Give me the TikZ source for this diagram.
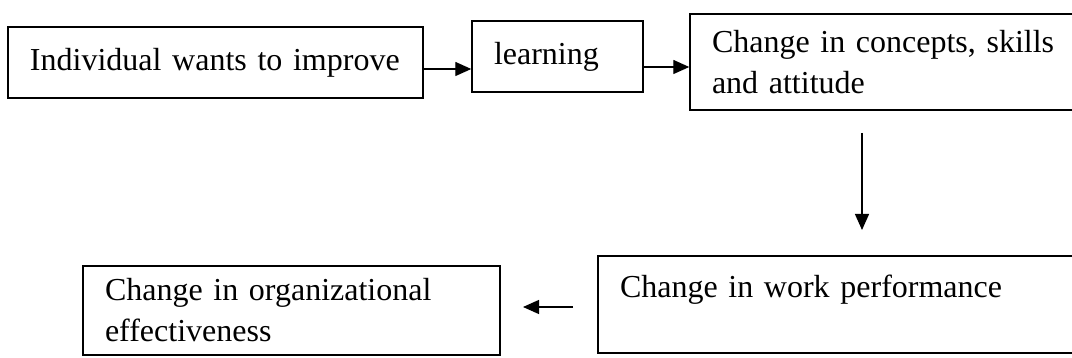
\documentclass[tikz,border=0pt]{standalone}
\usepackage{fontspec}
\setmainfont{Liberation Serif}
\usepackage{tikz}
\usetikzlibrary{arrows.meta}

\begin{document}
\begin{tikzpicture}[x=1pt,y=-1pt,every node/.style={draw,line width=1.4pt,align=left,inner xsep=22pt,inner ysep=0pt,font=\fontsize{32}{41}\selectfont},arr/.style={line width=1.3pt,-{Triangle[length=16pt,width=14pt]}}]
  	\useasboundingbox (0,0) rectangle (1072,358);
  	\clip (0,0) rectangle (1072,358);

  	\node[text width=371pt,minimum height=71pt] (ind) at (215.5,62.5) {Individual wants to improve};
  	\node[text width=127pt,minimum height=71pt] (learn) at (557.5,56.5) {learning};
  	\node[text width=376pt,minimum height=96pt] (concept) at (900,62) {Change in concepts, skills\\and attitude};
  	\node[text width=468pt,minimum height=97pt,text depth=37pt] (work) at (854,304.5) {Change in work performance};
  	\node[text width=373pt,minimum height=89pt] (org) at (291.5,310.5) {Change in organizational\\effectiveness};

  	\coordinate (d1) at (862,133);
  	\coordinate (d2) at (862,230);
  	\coordinate (l1) at (573,307);
  	\coordinate (l2) at (523,307);

  	\draw[arr] ([yshift=-6.5pt]ind.east) -- ([yshift=-12.5pt]learn.west);
  	\draw[arr] ([yshift=-10.5pt]learn.east) -- ([yshift=-5pt]concept.west);
  	\draw[arr] (d1) -- (d2);
  	\draw[arr] (l1) -- (l2);
	\end{tikzpicture}
\end{document}
